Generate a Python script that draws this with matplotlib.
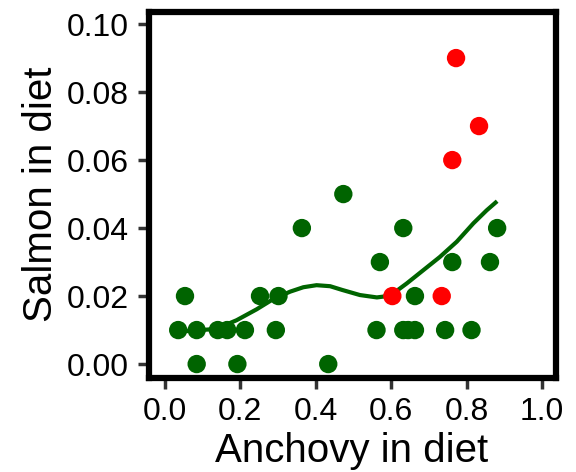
import matplotlib.pyplot as plt

# Ma'lumotlar: anchovy (x) va salmon (y) ulushlari
green_x = [0.035, 0.084, 0.140, 0.165, 0.212, 0.294, 0.561, 0.632, 0.645, 0.663, 0.743, 0.813,
           0.053, 0.252, 0.301, 0.663,
           0.084, 0.192, 0.433,
           0.570, 0.762, 0.862,
           0.363, 0.632, 0.881,
           0.473]
green_y = [0.01, 0.01, 0.01, 0.01, 0.01, 0.01, 0.01, 0.01, 0.01, 0.01, 0.01, 0.01,
           0.02, 0.02, 0.02, 0.02,
           0.00, 0.00, 0.00,
           0.03, 0.03, 0.03,
           0.04, 0.04, 0.04,
           0.05]

red_x = [0.603, 0.734, 0.762, 0.833, 0.772]
red_y = [0.02, 0.02, 0.06, 0.07, 0.09]

# Silliq egri chiziq (fit), rasmdan o'qilgan nuqtalar
curve_x = [0.035, 0.084, 0.119, 0.160, 0.190, 0.243, 0.287, 0.332, 0.367, 0.402, 0.438,
           0.470, 0.517, 0.562, 0.597, 0.641, 0.685, 0.729, 0.774, 0.818, 0.853, 0.881]
curve_y = [0.0095, 0.0099, 0.0102, 0.0115, 0.0129, 0.0161, 0.0191, 0.0213, 0.0226, 0.0232, 0.0229,
           0.0218, 0.0203, 0.0196, 0.0201, 0.0237, 0.0276, 0.0315, 0.0360, 0.0414, 0.0452, 0.0479]

xticks = [0.0, 0.2, 0.4, 0.6, 0.8, 1.0]
yticks = [0.00, 0.02, 0.04, 0.06, 0.08, 0.10]

plt.rcParams['font.family'] = ['Liberation Sans', 'DejaVu Sans']

fig = plt.figure(figsize=(5.76, 4.72), dpi=100)
ax = fig.add_axes([148.5 / 576, 1 - 378 / 472, (555.5 - 148.5) / 576, (378 - 11.5) / 472])

ax.plot(curve_x, curve_y, color='#006400', lw=3, zorder=2, solid_capstyle='butt')
ax.scatter(green_x, green_y, s=175, color='#006400', edgecolors='none', zorder=3)
ax.scatter(red_x, red_y, s=175, color='#ff0000', edgecolors='none', zorder=4)

ax.set_xlim(-0.0438, 1.0358)
ax.set_ylim(-0.0041, 0.1037)
ax.set_xticks(xticks)
ax.set_xticklabels([f'{t:.1f}' for t in xticks])
ax.set_yticks(yticks)
ax.set_yticklabels([f'{t:.2f}' for t in yticks])

for s in ax.spines.values():
    s.set_linewidth(4.5)
    s.set_color('black')
ax.tick_params(axis='both', direction='out', length=8, width=2.5, color='#333333',
               labelsize=23, pad=6)

ax.set_xlabel('Anchovy in diet', fontsize=29, labelpad=3)
ax.set_ylabel('Salmon in diet', fontsize=29, labelpad=5)

fig.savefig('out.png', dpi=100)
